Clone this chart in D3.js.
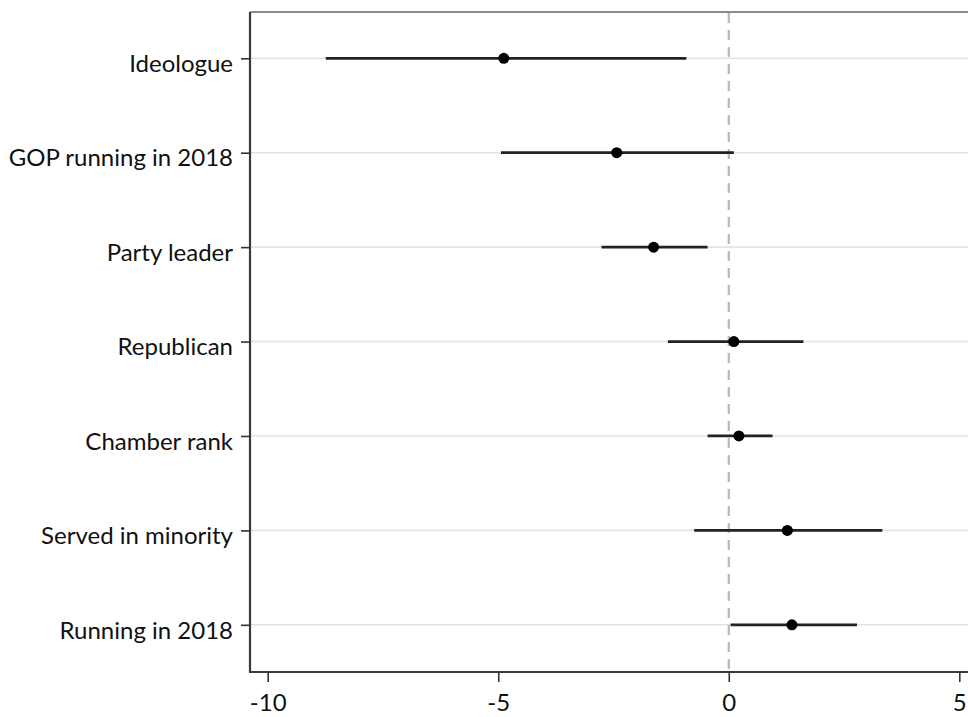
<!DOCTYPE html>
<html>
<head>
<meta charset="utf-8">
<script src="https://cdn.jsdelivr.net/npm/d3@7"></script>
<style>
  body { margin: 0; background: #fff; }
  svg { display: block; }
</style>
</head>
<body>
<svg width="968" height="717"></svg>
<script>
// coefficient estimates with 95% intervals, top to bottom
const categories = ["Ideologue", "GOP running in 2018", "Party leader", "Republican",
                    "Chamber rank", "Served in minority", "Running in 2018"];
const estimates = [-4.88, -2.43, -1.63, 0.11, 0.22, 1.27, 1.37];
const lower = [-8.74, -4.94, -2.76, -1.32, -0.46, -0.75, 0.04];
const upper = [-0.92, 0.11, -0.46, 1.62, 0.95, 3.33, 2.78];
const xTicks = [-10, -5, 0, 5];

const data = categories.map((c, i) => ({ name: c, est: estimates[i], lo: lower[i], hi: upper[i] }));

const frame = { left: 250, right: 990, top: 12, bottom: 672 };

const svg = d3.select("svg");

const xScale = d3.scaleLinear()
    .domain([-10, 5])
    .range([267.7, 959.3]);

const yScale = d3.scalePoint()
    .domain(categories)
    .range([58.3, 624.8]);

// light horizontal gridlines
svg.append("g")
    .selectAll("line")
    .data(categories)
    .join("line")
    .attr("x1", frame.left)
    .attr("x2", frame.right)
    .attr("y1", d => yScale(d))
    .attr("y2", d => yScale(d))
    .attr("stroke", "#e3e3e3")
    .attr("stroke-width", 1.6);

// top border of the plot region
svg.append("line")
    .attr("x1", frame.left).attr("x2", frame.right)
    .attr("y1", frame.top).attr("y2", frame.top)
    .attr("stroke", "#8a8a8a")
    .attr("stroke-width", 2);

// reference line at zero
svg.append("line")
    .attr("x1", xScale(0)).attr("x2", xScale(0))
    .attr("y1", frame.top + 1).attr("y2", frame.bottom)
    .attr("stroke", "#b8b8b8")
    .attr("stroke-width", 2.2)
    .attr("stroke-dasharray", "10,7");

// confidence intervals
svg.append("g")
    .selectAll("line")
    .data(data)
    .join("line")
    .attr("x1", d => xScale(d.lo))
    .attr("x2", d => xScale(d.hi))
    .attr("y1", d => yScale(d.name))
    .attr("y2", d => yScale(d.name))
    .attr("stroke", "#222")
    .attr("stroke-width", 2.8);

// point estimates
svg.append("g")
    .selectAll("circle")
    .data(data)
    .join("circle")
    .attr("cx", d => xScale(d.est))
    .attr("cy", d => yScale(d.name))
    .attr("r", 5.5)
    .attr("fill", "#000");

// Y axis
const yAxis = svg.append("g")
    .attr("transform", `translate(${frame.left}, 0)`)
    .call(d3.axisLeft(yScale).tickSize(9).tickPadding(8));
yAxis.select(".domain")
    .attr("d", `M0,${frame.top}V${frame.bottom}`)
    .attr("stroke", "#3a3a3a")
    .attr("stroke-width", 2.2);
yAxis.selectAll(".tick line").attr("stroke", "#333").attr("stroke-width", 1.6);
yAxis.selectAll(".tick text")
    .attr("font-family", "Lato, 'Open Sans', sans-serif")
    .attr("font-size", 24)
    .attr("fill", "#111")
    .attr("dy", "0.55em");

// X axis
const xAxis = svg.append("g")
    .attr("transform", `translate(0, ${frame.bottom})`)
    .call(d3.axisBottom(xScale).tickValues(xTicks).tickSize(10).tickPadding(12)
        .tickFormat(d => String(d)));
xAxis.select(".domain")
    .attr("d", `M${frame.left - 1},0H${frame.right}`)
    .attr("stroke", "#3a3a3a")
    .attr("stroke-width", 2.2);
xAxis.selectAll(".tick line").attr("stroke", "#333").attr("stroke-width", 1.6);
xAxis.selectAll(".tick text")
    .attr("font-family", "Lato, 'Open Sans', sans-serif")
    .attr("font-size", 24)
    .attr("fill", "#111");
</script>
</body>
</html>
